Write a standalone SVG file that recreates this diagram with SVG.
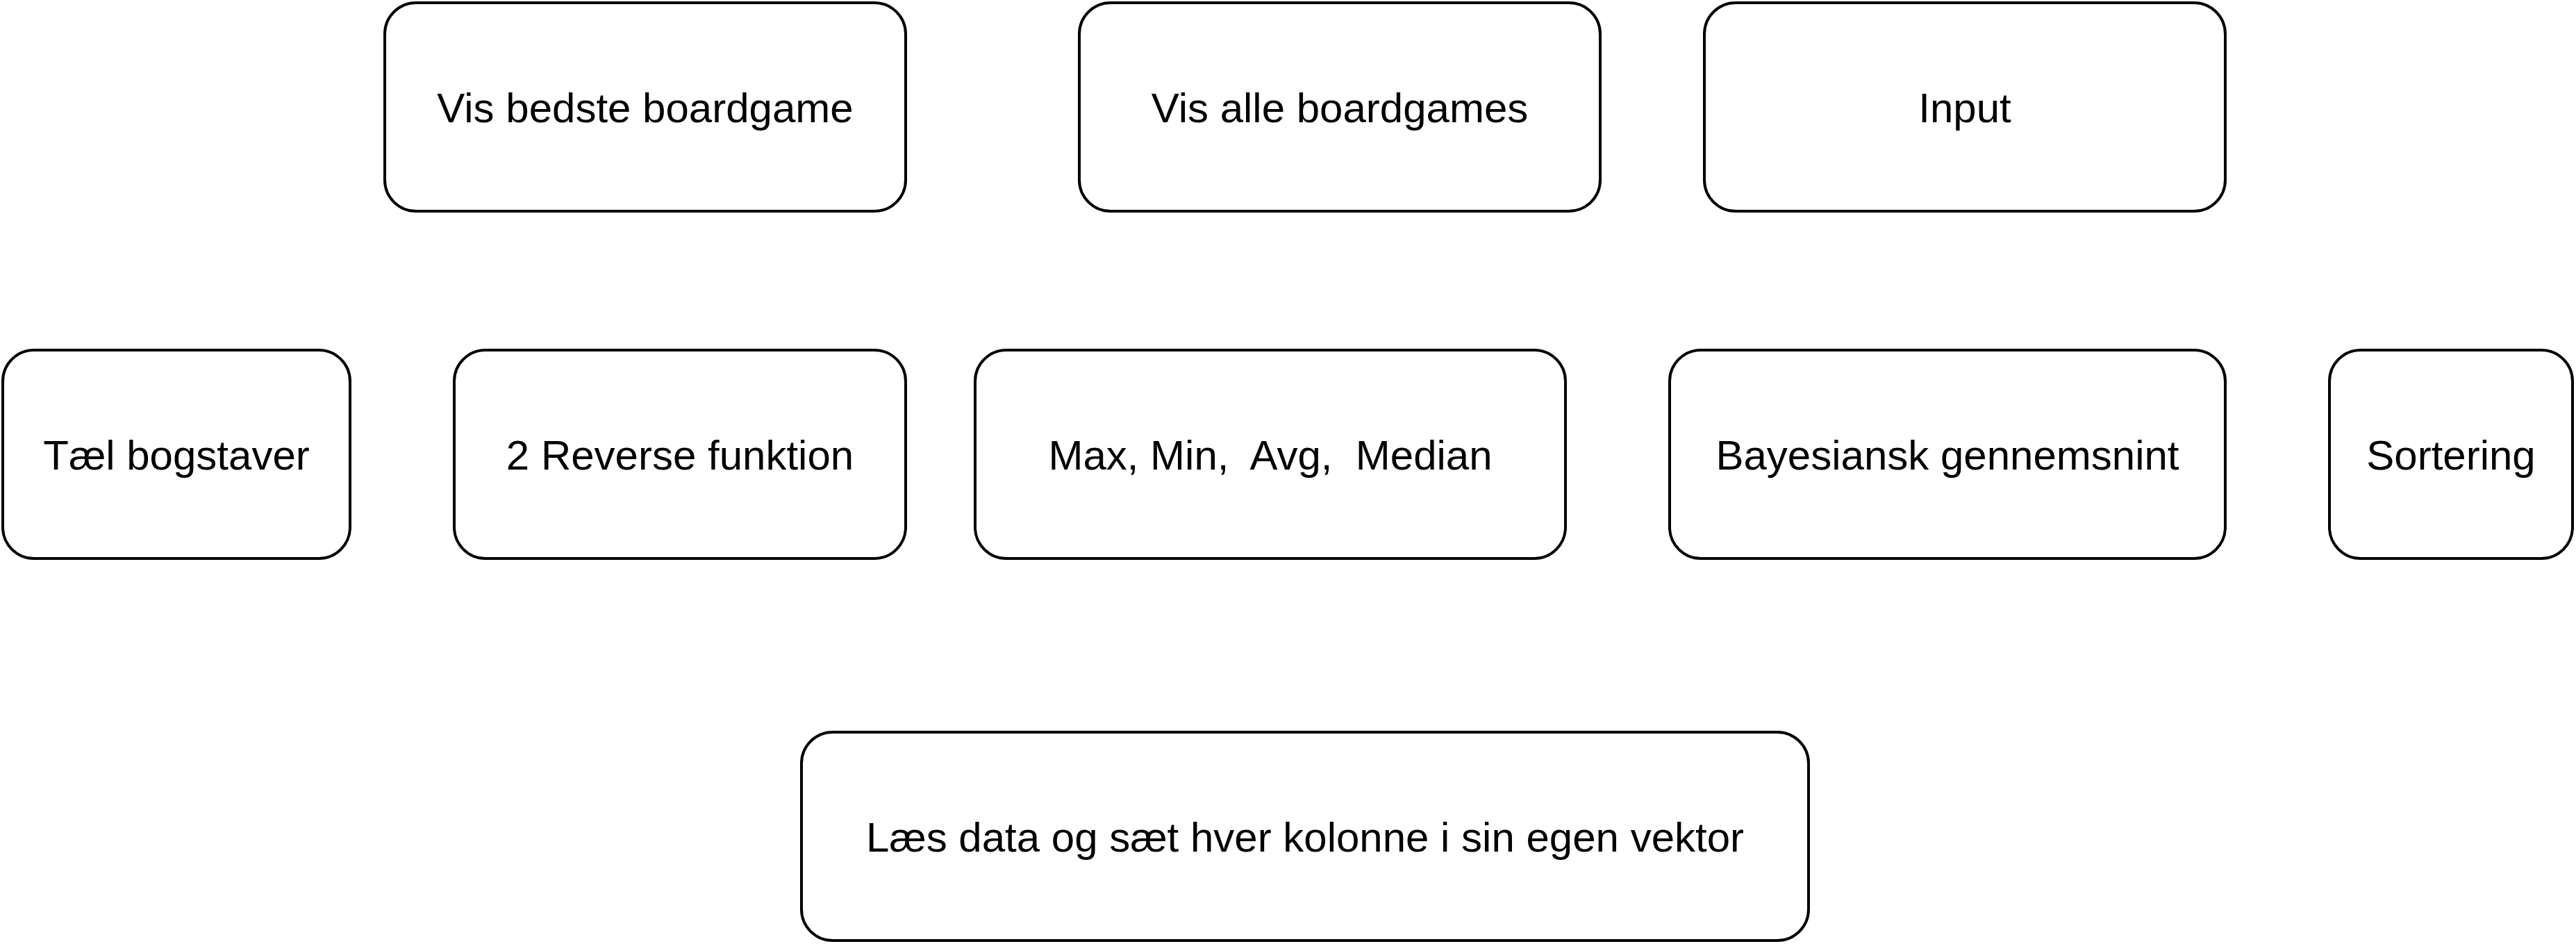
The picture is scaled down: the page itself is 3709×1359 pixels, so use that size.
<svg xmlns="http://www.w3.org/2000/svg" width="3709" height="1359" viewBox="0 0 3709 1359">
<style>
.box{fill:#ffffff;stroke:#000000;stroke-width:4}
.lbl{font-family:"Liberation Sans",Arial,Helvetica,sans-serif;font-size:60px;fill:#000000;text-anchor:middle;white-space:pre}
</style>
<rect x="0" y="0" width="3709" height="1359" fill="#ffffff"/>
<g id="connectors"></g>
<g id="node-vis-bedste"><rect class="box" x="554" y="4" width="750" height="300" rx="45" ry="45"/><text class="lbl" x="929" y="176">Vis bedste boardgame</text></g>
<g id="node-vis-alle"><rect class="box" x="1554" y="4" width="750" height="300" rx="45" ry="45"/><text class="lbl" x="1929" y="176">Vis alle boardgames</text></g>
<g id="node-input"><rect class="box" x="2454" y="4" width="750" height="300" rx="45" ry="45"/><text class="lbl" x="2829" y="176">Input</text></g>
<g id="node-tael"><rect class="box" x="4" y="504" width="500" height="300" rx="45" ry="45"/><text class="lbl" x="254" y="676">Tæl bogstaver</text></g>
<g id="node-reverse"><rect class="box" x="654" y="504" width="650" height="300" rx="45" ry="45"/><text class="lbl" x="979" y="676">2 Reverse funktion</text></g>
<g id="node-stats"><rect class="box" x="1404" y="504" width="850" height="300" rx="45" ry="45"/><text class="lbl" x="1829" y="676" xml:space="preserve">Max, Min,  Avg,  Median</text></g>
<g id="node-bayes"><rect class="box" x="2404" y="504" width="800" height="300" rx="45" ry="45"/><text class="lbl" x="2804" y="676">Bayesiansk gennemsnint</text></g>
<g id="node-sortering"><rect class="box" x="3354" y="504" width="350" height="300" rx="45" ry="45"/><text class="lbl" x="3529" y="676">Sortering</text></g>
<g id="node-laes"><rect class="box" x="1154" y="1054" width="1450" height="300" rx="45" ry="45"/><text class="lbl" x="1879" y="1226">Læs data og sæt hver kolonne i sin egen vektor</text></g>
</svg>
